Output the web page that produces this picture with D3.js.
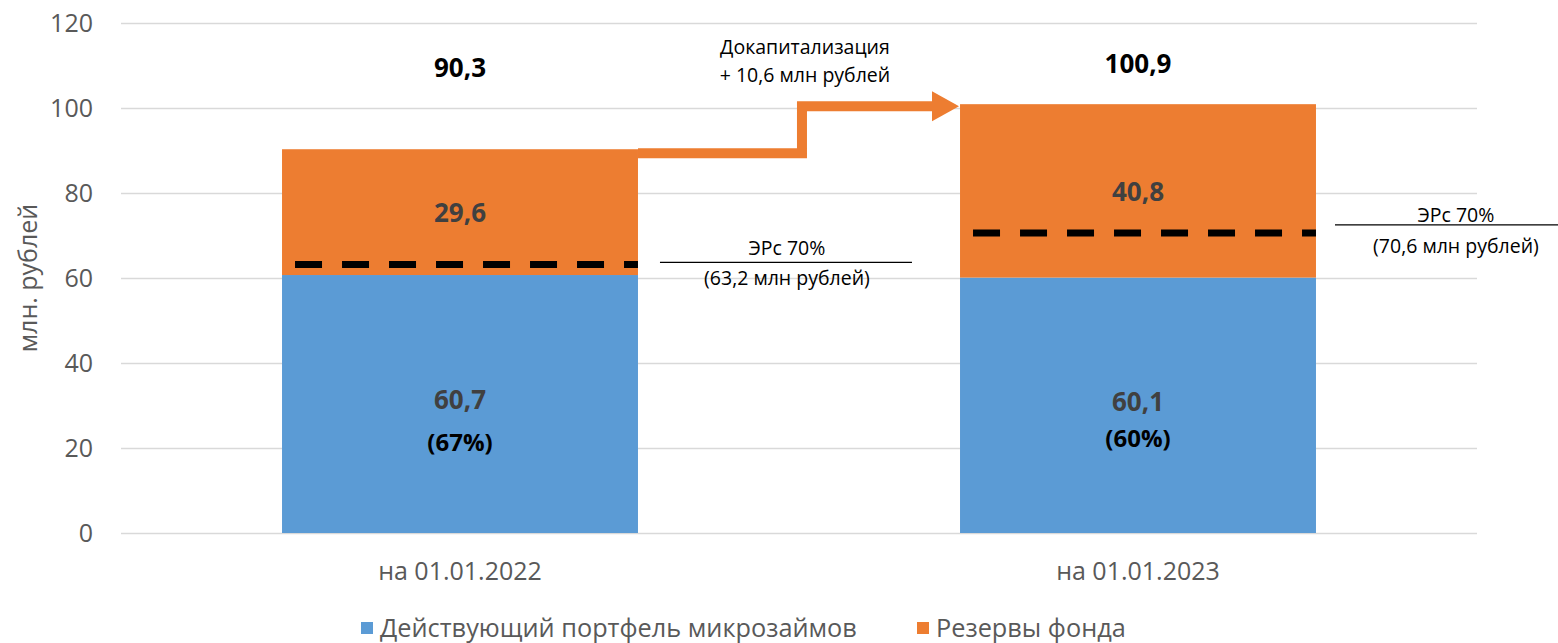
<!DOCTYPE html>
<meta charset="utf-8">
<script src="https://cdn.jsdelivr.net/npm/d3@7"></script>
<style>
body { margin: 0; background: #fff; }
svg text { font-family: "Open Sans", sans-serif; }
.axis text { fill: #595959; font-size: 25px; }
.axis line { stroke: #d9d9d9; stroke-width: 1.5; }
.seg-label { text-anchor: middle; font-weight: bold; font-size: 26px; fill: #404040; }
.pct-label { text-anchor: middle; font-weight: bold; font-size: 24px; fill: #000; }
.total-label { text-anchor: middle; font-weight: bold; font-size: 26px; fill: #000; }
.note { text-anchor: middle; font-size: 19.5px; fill: #000; }
.legend text { fill: #595959; font-size: 25.3px; }
</style>
<div id="vis"></div>
<script>

// Data
const categories = ["на 01.01.2022", "на 01.01.2023"];
const portfolio = [60.7, 60.1];
const reserves = [29.6, 40.8];
const shares = ["(67%)", "(60%)"];
const totals = [90.3, 100.9];
const threshold = [63.2, 70.6];
const thresholdNotes = ["(63,2 млн рублей)", "(70,6 млн рублей)"];
const yTicks = [0, 20, 40, 60, 80, 100, 120];
const seriesNames = ["Действующий портфель микрозаймов", "Резервы фонда"];
const colors = ["#5b9bd5", "#ed7d31"];

const w = 1558, h = 643;
const margin = {top: 23, left: 121, right: 81, bottom: 110};
const width = w - margin.left - margin.right,
      height = h - margin.top - margin.bottom;

const svg = d3.select("#vis").append("svg")
    .attr("width", w)
    .attr("height", h);

const g = svg.append("g")
    .attr("transform", "translate(" + margin.left + "," + margin.top + ")");

const x = d3.scaleBand()
    .domain(categories)
    .range([0, width])
    .paddingInner(0.475)
    .paddingOuter(0.2375);

const y = d3.scaleLinear()
    .domain([0, 120])
    .range([height, 0]);

// gridlines + y labels
g.append("g")
    .attr("class", "axis")
    .call(d3.axisLeft(y).tickValues(yTicks).tickSizeInner(-width).tickSizeOuter(0).tickPadding(28))
    .call(a => a.select(".domain").remove());

g.append("g")
    .attr("class", "axis")
    .attr("transform", "translate(0," + height + ")")
    .call(d3.axisBottom(x).tickSize(0).tickPadding(29))
    .call(a => a.select(".domain").remove());

// y title
svg.append("text")
    .attr("transform", "translate(37," + (margin.top + y(60)) + ") rotate(-90)")
    .attr("text-anchor", "middle")
    .attr("fill", "#595959")
    .attr("font-size", 25)
    .text("млн. рублей");

// stacked bars
const rows = categories.map((c, i) => ({cat: c, a: portfolio[i], b: reserves[i]}));

g.selectAll(".bar-a")
  .data(rows)
  .enter().append("rect")
    .attr("x", d => x(d.cat))
    .attr("y", d => y(d.a))
    .attr("width", x.bandwidth())
    .attr("height", d => height - y(d.a))
    .attr("fill", colors[0]);

g.selectAll(".bar-b")
  .data(rows)
  .enter().append("rect")
    .attr("x", d => x(d.cat))
    .attr("y", d => y(d.a + d.b))
    .attr("width", x.bandwidth())
    .attr("height", d => y(d.a) - y(d.a + d.b))
    .attr("fill", colors[1]);

// dashed threshold lines
g.selectAll(".thr")
  .data(categories)
  .enter().append("line")
    .attr("x1", d => x(d) + 13)
    .attr("x2", d => x(d) + x.bandwidth())
    .attr("y1", (d, i) => y(threshold[i]))
    .attr("y2", (d, i) => y(threshold[i]))
    .attr("stroke", "#000")
    .attr("stroke-width", 7)
    .attr("stroke-dasharray", "27,20");

// labels
const cx = d => x(d) + x.bandwidth() / 2;

g.selectAll(".seg-b")
  .data(rows)
  .enter().append("text")
    .attr("class", "seg-label")
    .attr("x", d => cx(d.cat))
    .attr("y", d => y(d.a + d.b / 2) + 1)
    .attr("dy", "0.36em")
    .text(d => String(d.b).replace(".", ","));

g.selectAll(".seg-a")
  .data(rows)
  .enter().append("text")
    .attr("class", "seg-label")
    .attr("x", d => cx(d.cat))
    .attr("y", d => y(d.a / 2) - 4)
    .attr("dy", "0.36em")
    .text(d => String(d.a).replace(".", ","));

g.selectAll(".pct")
  .data(rows)
  .enter().append("text")
    .attr("class", "pct-label")
    .attr("x", d => cx(d.cat))
    .attr("y", (d, i) => y(d.a / 2) + (i == 0 ? 38 : 33))
    .attr("dy", "0.36em")
    .text((d, i) => shares[i]);

g.selectAll(".total")
  .data(rows)
  .enter().append("text")
    .attr("class", "total-label")
    .attr("x", d => cx(d.cat))
    .attr("y", (d, i) => i == 0 ? 45 : 41)
    .attr("dy", "0.36em")
    .text((d, i) => String(totals[i]).replace(".", ","));

// recapitalisation arrow
const xr = x(categories[0]) + x.bandwidth();
const xl = x(categories[1]);
const y1 = y(totals[0]) + 4, y2 = y(totals[1]) + 2;
g.append("path")
    .attr("d", "M" + xr + "," + y1 + "H" + (xr + 164) + "V" + y2 + "H" + (xl - 26))
    .attr("fill", "none")
    .attr("stroke", colors[1])
    .attr("stroke-width", 10);
g.append("path")
    .attr("d", "M" + (xl - 28) + "," + (y2 - 15) + "L" + (xl - 1) + "," + y2 + "L" + (xl - 28) + "," + (y2 + 15) + "Z")
    .attr("fill", colors[1]);

g.append("text").attr("class", "note")
    .attr("x", xr + 167).attr("y", 24).attr("dy", "0.36em")
    .attr("font-size", 21.5)
    .text("Докапитализация");
g.append("text").attr("class", "note")
    .attr("x", xr + 167).attr("y", 52).attr("dy", "0.36em")
    .attr("font-size", 21.5)
    .text("+ 10,6 млн рублей");

// threshold notes
const notes = [
  {x1: xr + 22, x2: xr + 274, tx: xr + 149, t1: -14, t2: 16},
  {x1: x(categories[1]) + x.bandwidth() + 19, x2: w - margin.left, tx: x(categories[1]) + x.bandwidth() + 140, t1: -10, t2: 21}
];
notes.forEach((n, i) => {
  const ly = y(threshold[i]) - 2 + (i == 0 ? 0 : -6);
  g.append("line")
      .attr("x1", n.x1).attr("x2", n.x2)
      .attr("y1", ly).attr("y2", ly)
      .attr("stroke", "#000").attr("stroke-width", 1.2);
  g.append("text").attr("class", "note")
      .attr("x", n.tx).attr("y", ly + n.t1).attr("dy", "0.36em")
      .text("ЭРс 70%");
  g.append("text").attr("class", "note")
      .attr("x", n.tx).attr("y", ly + n.t2).attr("dy", "0.36em")
      .text(thresholdNotes[i]);
});

// legend
const legend = svg.append("g").attr("class", "legend");
const lx = [361, 917];
seriesNames.forEach((s, i) => {
  legend.append("rect")
      .attr("x", lx[i]).attr("y", 622)
      .attr("width", 12).attr("height", 12)
      .attr("fill", colors[i]);
  legend.append("text")
      .attr("x", lx[i] + 19).attr("y", 628)
      .attr("dy", "0.36em")
      .text(s);
});

</script>
